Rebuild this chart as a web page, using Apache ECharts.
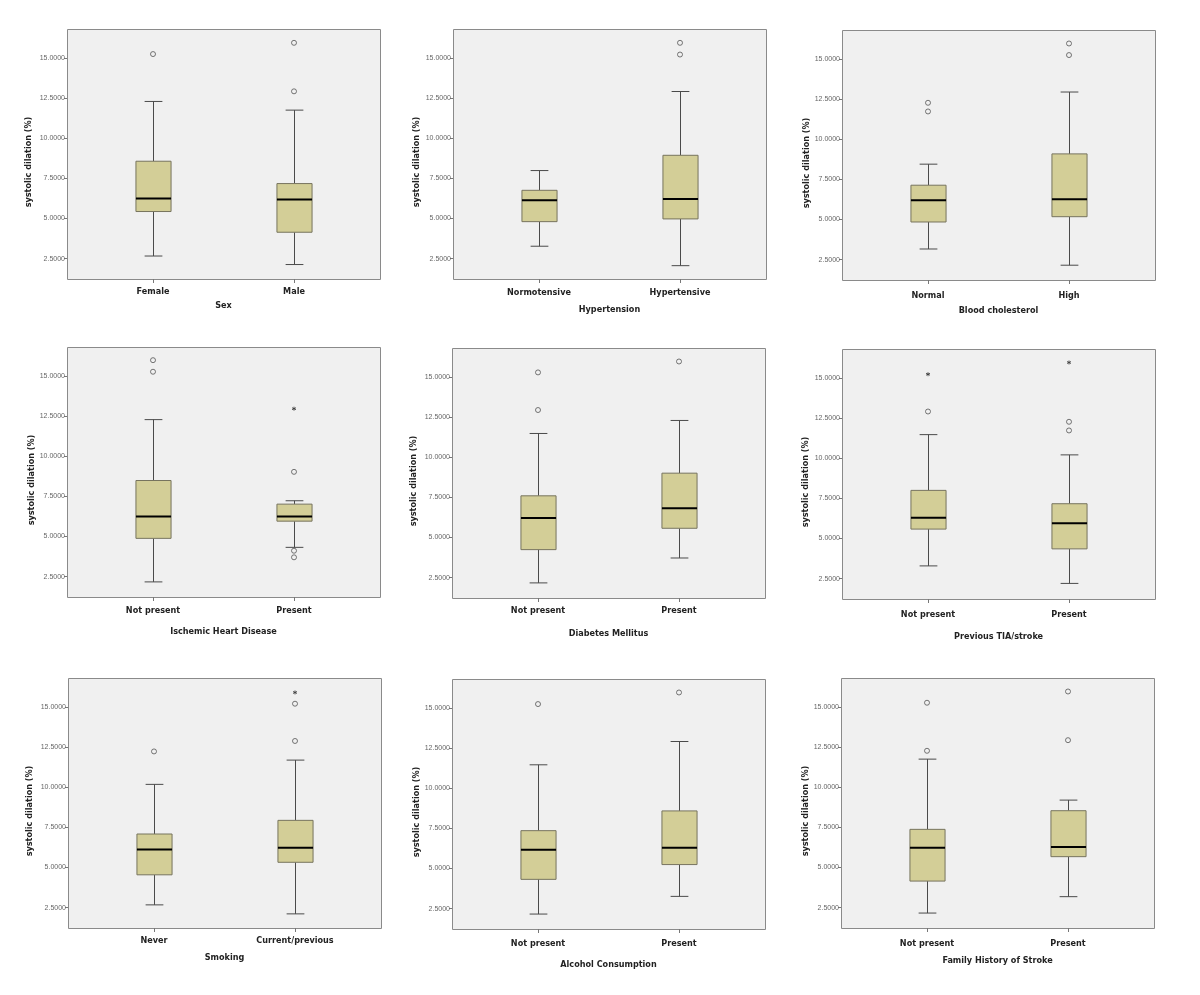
<!DOCTYPE html>
<html><head><meta charset="utf-8">
<script src="https://cdn.jsdelivr.net/npm/echarts@6/dist/echarts.min.js"></script>
<style>html,body{margin:0;padding:0;background:#fff}#c{width:1200px;height:995px}</style>
</head><body><div id="c"></div>
<script>
// ---------- data ----------
const yTicks = [2.5, 5, 7.5, 10, 12.5, 15];
const yName = 'systolic dilation (%)';
const panelTitles = ['Sex', 'Hypertension', 'Blood cholesterol', 'Ischemic Heart Disease', 'Diabetes Mellitus',
  'Previous TIA/stroke', 'Smoking', 'Alcohol Consumption', 'Family History of Stroke'];
const categories = [
  ['Female', 'Male'], ['Normotensive', 'Hypertensive'], ['Normal', 'High'],
  ['Not present', 'Present'], ['Not present', 'Present'], ['Not present', 'Present'],
  ['Never', 'Current/previous'], ['Not present', 'Present'], ['Not present', 'Present']
];
// [lower whisker, Q1, median, Q3, upper whisker] per category
const boxesSex = [[2.66, 5.43, 6.24, 8.56, 12.28], [2.13, 4.14, 6.18, 7.17, 11.74]];
const boxesHypertension = [[3.27, 4.80, 6.13, 6.75, 7.98], [2.06, 4.97, 6.21, 8.93, 12.90]];
const boxesCholesterol = [[3.16, 4.84, 6.19, 7.13, 8.44], [2.15, 5.17, 6.26, 9.08, 12.93]];
const boxesIHD = [[2.17, 4.88, 6.24, 8.48, 12.27], [4.32, 5.95, 6.24, 7.01, 7.22]];
const boxesDiabetes = [[2.17, 4.24, 6.21, 7.59, 11.47], [3.72, 5.57, 6.82, 9.00, 12.28]];
const boxesTIA = [[3.29, 5.58, 6.29, 7.99, 11.46], [2.20, 4.35, 5.94, 7.16, 10.20]];
const boxesSmoking = [[2.67, 4.54, 6.11, 7.08, 10.17], [2.11, 5.32, 6.22, 7.93, 11.68]];
const boxesAlcohol = [[2.16, 4.32, 6.17, 7.35, 11.45], [3.26, 5.24, 6.28, 8.58, 12.90]];
const boxesFamily = [[2.16, 4.15, 6.23, 7.37, 11.74], [3.18, 5.67, 6.27, 8.53, 9.19]];
// outliers (circles): [category index, value]
const outSex = [[0, 15.23], [1, 15.93], [1, 12.91]];
const outHypertension = [[1, 15.93], [1, 15.20]];
const outCholesterol = [[0, 12.26], [0, 11.72], [1, 15.95], [1, 15.23]];
const outIHD = [[0, 15.97], [0, 15.25], [1, 9.02], [1, 4.11], [1, 3.70]];
const outDiabetes = [[0, 15.27], [0, 12.93], [1, 15.95]];
const outTIA = [[0, 12.90], [1, 12.26], [1, 11.72]];
const outSmoking = [[0, 12.22], [1, 15.19], [1, 12.87]];
const outAlcohol = [[0, 15.23], [1, 15.95]];
const outFamily = [[0, 15.25], [0, 12.26], [1, 15.95], [1, 12.92]];
// extremes (stars): [category index, value]
const extSex = [];
const extHypertension = [];
const extCholesterol = [];
const extIHD = [[1, 12.95]];
const extDiabetes = [];
const extTIA = [[0, 15.22], [1, 15.95]];
const extSmoking = [[1, 15.89]];
const extAlcohol = [];
const extFamily = [];

const boxes = [boxesSex, boxesHypertension, boxesCholesterol, boxesIHD, boxesDiabetes, boxesTIA, boxesSmoking, boxesAlcohol, boxesFamily];
const outliers = [outSex, outHypertension, outCholesterol, outIHD, outDiabetes, outTIA, outSmoking, outAlcohol, outFamily];
const extremes = [extSex, extHypertension, extCholesterol, extIHD, extDiabetes, extTIA, extSmoking, extAlcohol, extFamily];

// ---------- layout ----------
const frames = [[67, 29], [453, 29], [842, 30], [67, 347], [452, 348], [842, 349], [68, 678], [452, 679], [841, 678]];
const FW = 313, FH = 250, INSET = 15.5;
const Y_MIN = 1.23, Y_MAX = 16.79;
const xLabelMargin = [8, 9.5, 11, 9, 8.5, 11, 8, 10, 11.5];
const xNameGap = [21.7, 25.7, 25.7, 29.7, 31, 33.4, 25, 30.7, 28.4];
const yNameGap = [34.3, 32, 31, 31, 34.3, 32, 33.7, 31, 31];
const FONT = 'DejaVu Sans Condensed';

function renderBox(params, api) {
  const k = api.value(0);
  const pLow = api.coord([k, api.value(1)]);
  const pQ1 = api.coord([k, api.value(2)]);
  const pMed = api.coord([k, api.value(3)]);
  const pQ3 = api.coord([k, api.value(4)]);
  const pHigh = api.coord([k, api.value(5)]);
  const band = api.size([1, 0])[0];
  const bw = band * 0.249, cw = band * 0.126;
  const x = Math.round(pLow[0]) + 0.5;
  const ws = { stroke: '#4a4a4a', lineWidth: 1 };
  return {
    type: 'group', children: [
      { type: 'line', shape: { x1: x, y1: pQ3[1], x2: x, y2: pHigh[1] }, style: ws },
      { type: 'line', shape: { x1: x, y1: pQ1[1], x2: x, y2: pLow[1] }, style: ws },
      { type: 'line', shape: { x1: x - cw / 2, y1: pHigh[1], x2: x + cw / 2, y2: pHigh[1] }, style: ws },
      { type: 'line', shape: { x1: x - cw / 2, y1: pLow[1], x2: x + cw / 2, y2: pLow[1] }, style: ws },
      { type: 'rect', shape: { x: x - bw / 2, y: pQ3[1], width: bw, height: pQ1[1] - pQ3[1] },
        style: { fill: '#d3ce97', stroke: '#77745e', lineWidth: 1 } },
      { type: 'line', shape: { x1: x - bw / 2, y1: pMed[1], x2: x + bw / 2, y2: pMed[1] },
        style: { stroke: '#000000', lineWidth: 2 } }
    ]
  };
}

const grids = [], xAxes = [], yAxes = [], series = [], graphics = [];
for (let i = 0; i < 9; i++) {
  const [L, T] = frames[i];
  graphics.push({
    type: 'rect', silent: true, z: -10,
    shape: { x: L + 0.5, y: T + 0.5, width: FW, height: FH },
    style: { fill: '#f0f0f0', stroke: '#8a8a8a', lineWidth: 1 }
  });
  grids.push({ left: L + INSET, top: T, width: FW - 2 * INSET, height: FH });
  xAxes.push({
    type: 'category', gridIndex: i, data: categories[i], boundaryGap: true,
    axisLine: { show: false },
    axisTick: { show: true, alignWithLabel: true, length: 4, lineStyle: { color: '#777' } },
    axisLabel: { margin: xLabelMargin[i], fontSize: 9, fontWeight: 'bold', fontFamily: FONT, color: '#222' },
    splitLine: { show: false },
    name: panelTitles[i], nameLocation: 'middle', nameGap: xNameGap[i],
    nameTextStyle: { fontSize: 9, fontWeight: 'bold', fontFamily: FONT, color: '#222' }
  });
  yAxes.push({
    type: 'value', gridIndex: i, min: Y_MIN, max: Y_MAX, offset: INSET,
    axisLine: { show: false },
    axisTick: { show: true, length: 3, customValues: yTicks, lineStyle: { color: '#777' } },
    axisLabel: { customValues: yTicks, formatter: v => v.toFixed(4), fontSize: 7,
      fontFamily: 'Liberation Sans', color: '#666', margin: 2 },
    splitLine: { show: false },
    name: yName, nameLocation: 'middle', nameGap: yNameGap[i],
    nameTextStyle: { fontSize: 9, fontWeight: 'bold', fontFamily: FONT, color: '#222', padding: [0, 16, 0, 0] }
  });
  series.push({
    type: 'custom', xAxisIndex: i, yAxisIndex: i, renderItem: renderBox,
    encode: { x: 0, y: [1, 2, 3, 4, 5] },
    data: boxes[i].map((b, k) => [k].concat(b)), z: 2
  });
  series.push({
    type: 'scatter', xAxisIndex: i, yAxisIndex: i, data: outliers[i],
    symbol: 'circle', symbolSize: 5,
    itemStyle: { color: 'rgba(0,0,0,0)', borderColor: '#555', borderWidth: 1 }, z: 3
  });
  series.push({
    type: 'scatter', xAxisIndex: i, yAxisIndex: i, data: extremes[i],
    symbol: 'path://M5,0L5,10M0.67,2.5L9.33,7.5M0.67,7.5L9.33,2.5', symbolSize: 4,
    itemStyle: { color: '#333', borderColor: '#333', borderWidth: 1 }, z: 3
  });
}

const chart = echarts.init(document.getElementById('c'), null, { renderer: 'canvas' });
chart.setOption({
  animation: false,
  backgroundColor: '#ffffff',
  graphic: graphics,
  grid: grids, xAxis: xAxes, yAxis: yAxes, series: series
});
</script></body></html>
